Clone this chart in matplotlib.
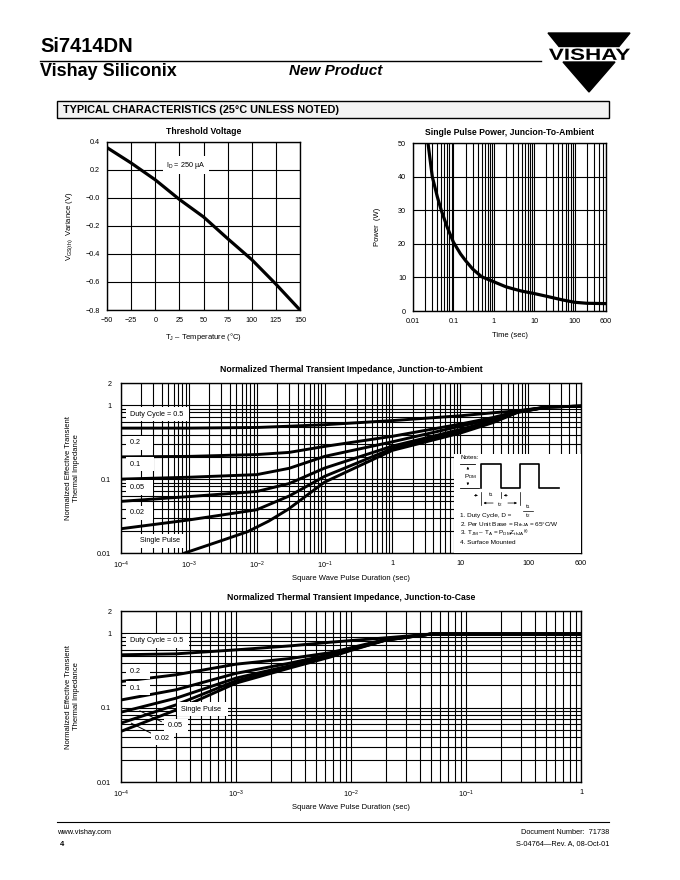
import numpy as np
import matplotlib
matplotlib.use('Agg')
import matplotlib.pyplot as plt
from matplotlib.patches import Polygon, Rectangle, PathPatch
from matplotlib.textpath import TextPath
from matplotlib.font_manager import FontProperties
from matplotlib.transforms import Affine2D
from matplotlib.ticker import LogLocator, NullFormatter

plt.rcParams['font.family'] = ['Liberation Sans', 'DejaVu Sans']
plt.rcParams['mathtext.fontset'] = 'custom'
plt.rcParams['mathtext.rm'] = 'Liberation Sans'
plt.rcParams['mathtext.it'] = 'Liberation Sans:italic'
plt.rcParams['mathtext.bf'] = 'Liberation Sans:bold'
plt.rcParams['mathtext.default'] = 'regular'

# ---------------------------------------------------------------- data
# threshold voltage variance vs junction temperature
temp_c = [-50, -25, 0, 25, 50, 75, 100, 125, 150]
vgs_var = [0.36, 0.25, 0.13, -0.01, -0.135, -0.29, -0.44, -0.615, -0.80]

# single pulse power, junction-to-ambient
pulse_t = [0.0235, 0.03, 0.04, 0.05, 0.07, 0.1, 0.15, 0.2, 0.3, 0.5, 1, 2, 3, 5, 10, 20, 50, 100, 200, 600]
pulse_p = [50, 40, 34, 30, 25, 20.5, 17, 15, 12.5, 10.2, 8.7, 7.2, 6.6, 5.9, 5.2, 4.4, 3.3, 2.6, 2.3, 2.2]

# normalized thermal transient impedance, junction-to-ambient
amb_t = [1e-4, 1e-3, 1e-2, 3e-2, 1e-1, 1, 10, 30, 70, 200, 600]
amb_d05 = [0.49, 0.49, 0.50, 0.52, 0.545, 0.62, 0.72, 0.79, 0.84, 0.95, 0.97]
amb_d02 = [0.20, 0.203, 0.215, 0.23, 0.277, 0.38, 0.556, 0.68, 0.83, 0.95, 0.97]
amb_d01 = [0.10, 0.106, 0.115, 0.14, 0.203, 0.32, 0.52, 0.65, 0.82, 0.95, 0.97]
amb_d005 = [0.05, 0.058, 0.068, 0.087, 0.141, 0.28, 0.47, 0.62, 0.81, 0.95, 0.97]
amb_d002 = [0.0213, 0.028, 0.0385, 0.059, 0.109, 0.26, 0.45, 0.60, 0.81, 0.95, 0.97]
amb_single_t = [8.7e-4, 2.7e-3, 7.4e-3, 1.5e-2, 2.9e-2, 1e-1, 1, 10, 30, 70, 200, 600]
amb_single = [0.01, 0.0142, 0.0195, 0.027, 0.039, 0.091, 0.245, 0.42, 0.58, 0.80, 0.95, 0.97]

# normalized thermal transient impedance, junction-to-case
case_t = [1e-4, 3e-4, 1e-3, 3e-3, 6.6e-3, 1e-2, 2e-2, 5e-2, 1]
case_d05 = [0.515, 0.53, 0.60, 0.68, 0.76, 0.80, 0.87, 0.98, 0.98]
case_d02 = [0.225, 0.277, 0.385, 0.46, 0.55, 0.64, 0.83, 0.98, 0.98]
case_d01 = [0.127, 0.174, 0.29, 0.40, 0.52, 0.62, 0.82, 0.98, 0.98]
case_d005 = [0.087, 0.134, 0.25, 0.37, 0.50, 0.61, 0.82, 0.98, 0.98]
case_d002 = [0.062, 0.109, 0.23, 0.355, 0.49, 0.60, 0.81, 0.98, 0.98]
case_single = [0.048, 0.093, 0.214, 0.345, 0.48, 0.59, 0.81, 0.98, 0.98]

# tick labels
temp_ticks = [-50, -25, 0, 25, 50, 75, 100, 125, 150]
temp_labels = ['\u221250', '\u221225', '0', '25', '50', '75', '100', '125', '150']
vgs_ticks = [0.4, 0.2, 0.0, -0.2, -0.4, -0.6, -0.8]
vgs_labels = ['0.4', '0.2', '\u22120.0', '\u22120.2', '\u22120.4', '\u22120.6', '\u22120.8']
pulse_xticks = [0.01, 0.1, 1, 10, 100, 600]
pulse_xlabels = ['0.01', '0.1', '1', '10', '100', '600']
amb_xticks = [1e-4, 1e-3, 1e-2, 1e-1, 1, 10, 100, 600]
amb_xlabels = ['10$^{-4}$', '10$^{-3}$', '10$^{-2}$', '10$^{-1}$', '1', '10', '100', '600']
case_xticks = [1e-4, 1e-3, 1e-2, 1e-1, 1]
case_xlabels = ['10$^{-4}$', '10$^{-3}$', '10$^{-2}$', '10$^{-1}$', '1']
z_ticks = [0.01, 0.1, 1, 2]
z_labels = ['0.01', '0.1', '1', '2']

W, H = 680, 880
fig = plt.figure(figsize=(W / 100, H / 100), dpi=100)


def px_axes(left, top, right, bottom):
    # axes placed by page pixel box
    return fig.add_axes([left / W, 1 - bottom / H, (right - left) / W, (bottom - top) / H])


# full page layer for header / footer
page = fig.add_axes([0, 0, 1, 1])
page.set_xlim(0, W)
page.set_ylim(H, 0)
page.axis('off')

page.text(40, 47, 'Si7414DN', fontsize=14.5, fontweight='bold', va='center')
page.plot([40, 541], [61, 61], color='black', lw=1)
page.text(40, 72, 'Vishay Siliconix', fontsize=13, fontweight='bold', va='center')
page.text(289, 71, 'New Product', fontsize=11, fontweight='bold', style='italic', va='center')

# vishay logo: two black triangles with the stretched name between them
page.add_patch(Polygon([[548, 33], [630, 33], [619, 46.5], [559, 46.5]], closed=True, color='black'))
logo_path = TextPath((0, 0), 'VISHAY', size=10, prop=FontProperties(family='Liberation Sans', weight='bold'))
ext = logo_path.get_extents()
sx = (630 - 549) / ext.width
sy = (60 - 48.5) / ext.height
logo_tf = Affine2D().translate(-ext.x0, -ext.y0).scale(sx, -sy).translate(549, 60)
page.add_patch(PathPatch(logo_tf.transform_path(logo_path), color='black', lw=0))
page.add_patch(Polygon([[563, 62], [615, 62], [589, 92]], closed=True, color='black'))

page.add_patch(Rectangle((57, 101), 552, 17, facecolor='#f3f3f3', edgecolor='black', lw=1))
page.text(63, 110, 'TYPICAL CHARACTERISTICS (25\u00b0C UNLESS NOTED)', fontsize=7.8, fontweight='bold', va='center')

# footer
page.plot([57, 609], [822, 822], color='black', lw=0.8)
page.text(57, 832, 'www.vishay.com', fontsize=5.3, va='center')
page.text(60, 844, '4', fontsize=5.5, fontweight='bold', va='center')
page.text(609, 832, 'Document Number:  71738', fontsize=5.3, va='center', ha='right')
page.text(609, 844, 'S-04764\u2014Rev. A, 08-Oct-01', fontsize=5.3, va='center', ha='right')


def style_axes(ax):
    ax.grid(True, which='both', color='black', lw=0.8)
    ax.set_axisbelow(True)
    ax.tick_params(which='both', length=0, labelsize=5.2, pad=5)
    for s in ax.spines.values():
        s.set_linewidth(1.0)


def label_box(ax, x, y, s, **kw):
    ax.text(x, y, s, fontsize=5.2, va='center', zorder=5,
            bbox=dict(facecolor='white', edgecolor='none', boxstyle='square,pad=0.5'), **kw)


########################################################################################################################
# Threshold voltage
ax1 = px_axes(107, 142, 300, 310)
ax1.plot(temp_c, vgs_var, color='black', lw=2.3, solid_capstyle='butt', zorder=3)
ax1.set_xlim(-50, 150)
ax1.set_ylim(-0.8, 0.4)
ax1.set_xticks(temp_ticks)
ax1.set_xticklabels(temp_labels)
ax1.set_yticks(vgs_ticks)
ax1.set_yticklabels(vgs_labels)
style_axes(ax1)
ax1.set_title('Threshold Voltage', fontsize=6.2, fontweight='bold', pad=6)
ax1.set_xlabel('T$_J$ \u2013 Temperature (\u00b0C)', fontsize=5.5, labelpad=5)
ax1.set_ylabel('V$_{GS(th)}$  Variance (V)', fontsize=5.5, labelpad=8)
label_box(ax1, 32, 0.235, 'I$_D$ = 250 \u00b5A', ha='center')

########################################################################################################################
# Single pulse power
ax2 = px_axes(413, 143, 606, 311)
ax2.plot(pulse_t, pulse_p, color='black', lw=2.3, zorder=3)
ax2.set_xscale('log')
ax2.set_xlim(0.01, 600)
ax2.set_ylim(0, 50)
ax2.xaxis.set_minor_locator(LogLocator(base=10, subs=range(2, 10), numticks=100))
ax2.xaxis.set_minor_formatter(NullFormatter())
ax2.set_xticks(pulse_xticks)
ax2.set_xticklabels(pulse_xlabels)
ax2.set_yticks(range(0, 51, 10))
style_axes(ax2)
ax2.set_title('Single Pulse Power, Juncion-To-Ambient', fontsize=6.2, fontweight='bold', pad=6)
ax2.set_xlabel('Time (sec)', fontsize=5.5, labelpad=5)
ax2.set_ylabel('Power  (W)', fontsize=5.5, labelpad=12)


def thermal_axes(ax, xlim, xticks, xlabels, title):
    ax.set_xscale('log')
    ax.set_yscale('log')
    ax.set_xlim(*xlim)
    ax.set_ylim(0.01, 2)
    ax.xaxis.set_minor_locator(LogLocator(base=10, subs=range(2, 10), numticks=100))
    ax.yaxis.set_minor_locator(LogLocator(base=10, subs=range(2, 10), numticks=100))
    ax.xaxis.set_minor_formatter(NullFormatter())
    ax.yaxis.set_minor_formatter(NullFormatter())
    ax.set_xticks(xticks)
    ax.set_xticklabels(xlabels)
    ax.set_yticks(z_ticks)
    ax.set_yticklabels(z_labels)
    style_axes(ax)
    ax.tick_params(axis='y', pad=7)
    ax.set_title(title, fontsize=6.2, fontweight='bold', pad=8)
    ax.set_xlabel('Square Wave Pulse Duration (sec)', fontsize=5.5, labelpad=3)
    ax.set_ylabel('Normalized Effective Transient\nThermal Impedance', fontsize=5.5, labelpad=12)


########################################################################################################################
# Junction-to-ambient
ax3 = px_axes(121, 383, 581, 553)
for zz in [amb_d05, amb_d02, amb_d01, amb_d005, amb_d002]:
    ax3.plot(amb_t, zz, color='black', lw=2.1, zorder=3)
ax3.plot(amb_single_t, amb_single, color='black', lw=2.1, zorder=3)
thermal_axes(ax3, (1e-4, 600), amb_xticks, amb_xlabels,
             'Normalized Thermal Transient Impedance, Junction-to-Ambient')
label_box(ax3, 1.35e-4, 0.76, 'Duty Cycle = 0.5 ')
label_box(ax3, 1.35e-4, 0.31, '0.2     ')
label_box(ax3, 1.35e-4, 0.16, '0.1     ')
label_box(ax3, 1.35e-4, 0.077, '0.05   ')
label_box(ax3, 1.35e-4, 0.035, '0.02   ')
label_box(ax3, 1.9e-4, 0.0147, 'Single Pulse')

# notes panel
tr = ax3.transAxes
ax3.add_patch(Rectangle((0.723, 0.0), 0.277, 0.585, transform=tr, facecolor='white', edgecolor='none', zorder=4))
nfs = 4.6
arrow = dict(arrowstyle='-|>', lw=0.5, color='black', mutation_scale=3)
ax3.text(0.738, 0.559, 'Notes:', transform=tr, fontsize=nfs, va='center', zorder=5)
wave_x = [0.782, 0.782, 0.826, 0.826, 0.867, 0.867, 0.909, 0.909, 0.952]
wave_y = [0.382, 0.524, 0.524, 0.382, 0.382, 0.524, 0.524, 0.382, 0.382]
ax3.plot(wave_x, wave_y, transform=tr, color='black', lw=1.2, zorder=5)
ax3.plot([0.738, 0.770], [0.524, 0.524], transform=tr, color='black', lw=0.6, zorder=5)
ax3.plot([0.738, 0.779], [0.382, 0.382], transform=tr, color='black', lw=0.6, zorder=5)
ax3.annotate('', xy=(0.754, 0.524), xytext=(0.754, 0.48), xycoords=tr, textcoords=tr, zorder=5, arrowprops=arrow)
ax3.annotate('', xy=(0.754, 0.382), xytext=(0.754, 0.425), xycoords=tr, textcoords=tr, zorder=5, arrowprops=arrow)
ax3.text(0.759, 0.452, 'P$_{DM}$', transform=tr, fontsize=nfs, ha='center', va='center', zorder=5)
# t1 / t2 dimensions
ax3.plot([0.782, 0.782], [0.36, 0.28], transform=tr, color='black', lw=0.5, zorder=5)
ax3.plot([0.826, 0.826], [0.36, 0.325], transform=tr, color='black', lw=0.5, zorder=5)
ax3.plot([0.867, 0.867], [0.36, 0.28], transform=tr, color='black', lw=0.5, zorder=5)
ax3.annotate('', xy=(0.782, 0.339), xytext=(0.762, 0.339), xycoords=tr, textcoords=tr, zorder=5, arrowprops=arrow)
ax3.annotate('', xy=(0.826, 0.339), xytext=(0.846, 0.339), xycoords=tr, textcoords=tr, zorder=5, arrowprops=arrow)
ax3.text(0.804, 0.345, 't$_1$', transform=tr, fontsize=nfs, ha='center', va='center', zorder=5)
ax3.annotate('', xy=(0.782, 0.294), xytext=(0.815, 0.294), xycoords=tr, textcoords=tr, zorder=5, arrowprops=arrow)
ax3.annotate('', xy=(0.867, 0.294), xytext=(0.835, 0.294), xycoords=tr, textcoords=tr, zorder=5, arrowprops=arrow)
ax3.text(0.825, 0.285, 't$_2$', transform=tr, fontsize=nfs, ha='center', va='center', zorder=5)
ax3.text(0.738, 0.222, '1. Duty Cycle, D =', transform=tr, fontsize=nfs, va='center', zorder=5)
ax3.text(0.884, 0.272, 't$_1$', transform=tr, fontsize=nfs, ha='center', va='center', zorder=5)
ax3.plot([0.873, 0.895], [0.248, 0.248], transform=tr, color='black', lw=0.5, zorder=5)
ax3.text(0.884, 0.222, 't$_2$', transform=tr, fontsize=nfs, ha='center', va='center', zorder=5)
ax3.text(0.738, 0.168, '2. Per Unit Base = R$_{thJA}$ = 65\u00b0C/W', transform=tr, fontsize=nfs,
         va='center', zorder=5)
ax3.text(0.738, 0.116, '3. T$_{JM}$ \u2013 T$_A$ = P$_{DM}$Z$_{thJA}$$^{(t)}$', transform=tr, fontsize=nfs,
         va='center', zorder=5)
ax3.text(0.738, 0.064, '4. Surface Mounted', transform=tr, fontsize=nfs, va='center', zorder=5)

########################################################################################################################
# Junction-to-case
ax4 = px_axes(121, 611, 581, 782)
for zz in [case_d05, case_d02, case_d01, case_d005, case_d002, case_single]:
    ax4.plot(case_t, zz, color='black', lw=2.1, zorder=3)
thermal_axes(ax4, (1e-4, 1), case_xticks, case_xlabels,
             'Normalized Thermal Transient Impedance, Junction-to-Case')
label_box(ax4, 1.2e-4, 0.795, 'Duty Cycle = 0.5 ')
label_box(ax4, 1.2e-4, 0.307, '0.2   ')
label_box(ax4, 1.2e-4, 0.183, '0.1   ')
label_box(ax4, 3.3e-4, 0.0955, 'Single Pulse  ')
label_box(ax4, 2.56e-4, 0.057, '0.05 ')
label_box(ax4, 1.96e-4, 0.039, '0.02 ')
# leaders for 0.05 and 0.02
ax4.plot([1.46e-4, 2.24e-4], [0.0906, 0.065], color='black', lw=0.7, zorder=4)
ax4.plot([1.23e-4, 1.83e-4], [0.0618, 0.0453], color='black', lw=0.7, zorder=4)

fig.savefig('out.png', dpi=100)
